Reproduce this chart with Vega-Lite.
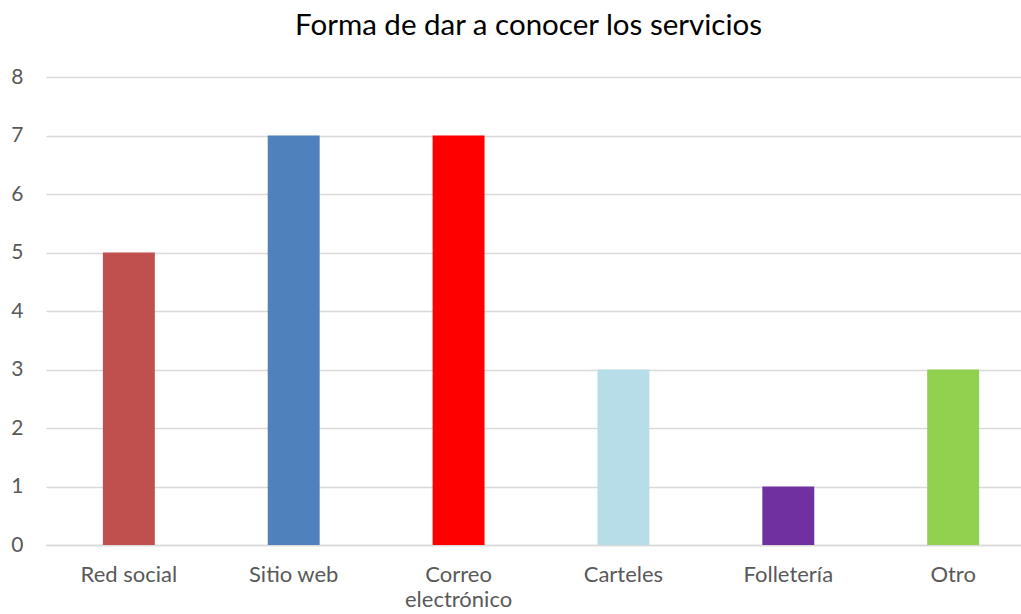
{
  "$schema": "https://vega.github.io/schema/vega-lite/v6.json",
  "width": 975,
  "height": 468,
  "autosize": "none",
  "padding": {"left": 46, "top": 77, "right": 0, "bottom": 69},
  "background": "white",
  "title": {
    "text": "Forma de dar a conocer los servicios",
    "font": "Lato",
    "fontSize": 29.5,
    "fontWeight": "normal",
    "color": "#000000",
    "anchor": "middle",
    "frame": "group",
    "offset": 25,
    "dx": -5
  },
  "data": {
    "values": [
      {"categoria": "Red social", "valor": 5},
      {"categoria": "Sitio web", "valor": 7},
      {"categoria": "Correo electrónico", "valor": 7},
      {"categoria": "Carteles", "valor": 3},
      {"categoria": "Folletería", "valor": 1},
      {"categoria": "Otro", "valor": 3}
    ]
  },
  "config": {
    "view": {"stroke": null},
    "axis": {"labelFont": "Lato", "labelColor": "#595959", "labelFontSize": 21}
  },
  "mark": {"type": "bar"},
  "encoding": {
    "x": {
      "field": "categoria",
      "type": "nominal",
      "sort": null,
      "scale": {"range": [0, 990], "paddingInner": 0.685, "paddingOuter": 0.345},
      "axis": {
        "title": null,
        "labelAngle": 0,
        "labelFontSize": 22,
        "ticks": false,
        "domain": true,
        "domainColor": "#d9d9d9",
        "domainWidth": 1.5,
        "labelPadding": 19,
        "labelBaseline": "top",
        "labelLineHeight": 25,
        "labelExpr": "datum.label == 'Correo electrónico' ? ['Correo', 'electrónico'] : datum.label"
      }
    },
    "y": {
      "field": "valor",
      "type": "quantitative",
      "scale": {"domain": [0, 8]},
      "axis": {
        "title": null,
        "tickCount": 8,
        "ticks": false,
        "domain": false,
        "grid": true,
        "gridColor": "#d9d9d9",
        "gridWidth": 1.5,
        "labelPadding": 23,
        "labelAlign": "right"
      }
    },
    "color": {
      "field": "categoria",
      "type": "nominal",
      "sort": null,
      "legend": null,
      "scale": {
        "domain": ["Red social", "Sitio web", "Correo electrónico", "Carteles", "Folletería", "Otro"],
        "range": ["#C0504D", "#4F81BD", "#FF0000", "#B7DDE8", "#7030A0", "#92D050"]
      }
    }
  }
}
